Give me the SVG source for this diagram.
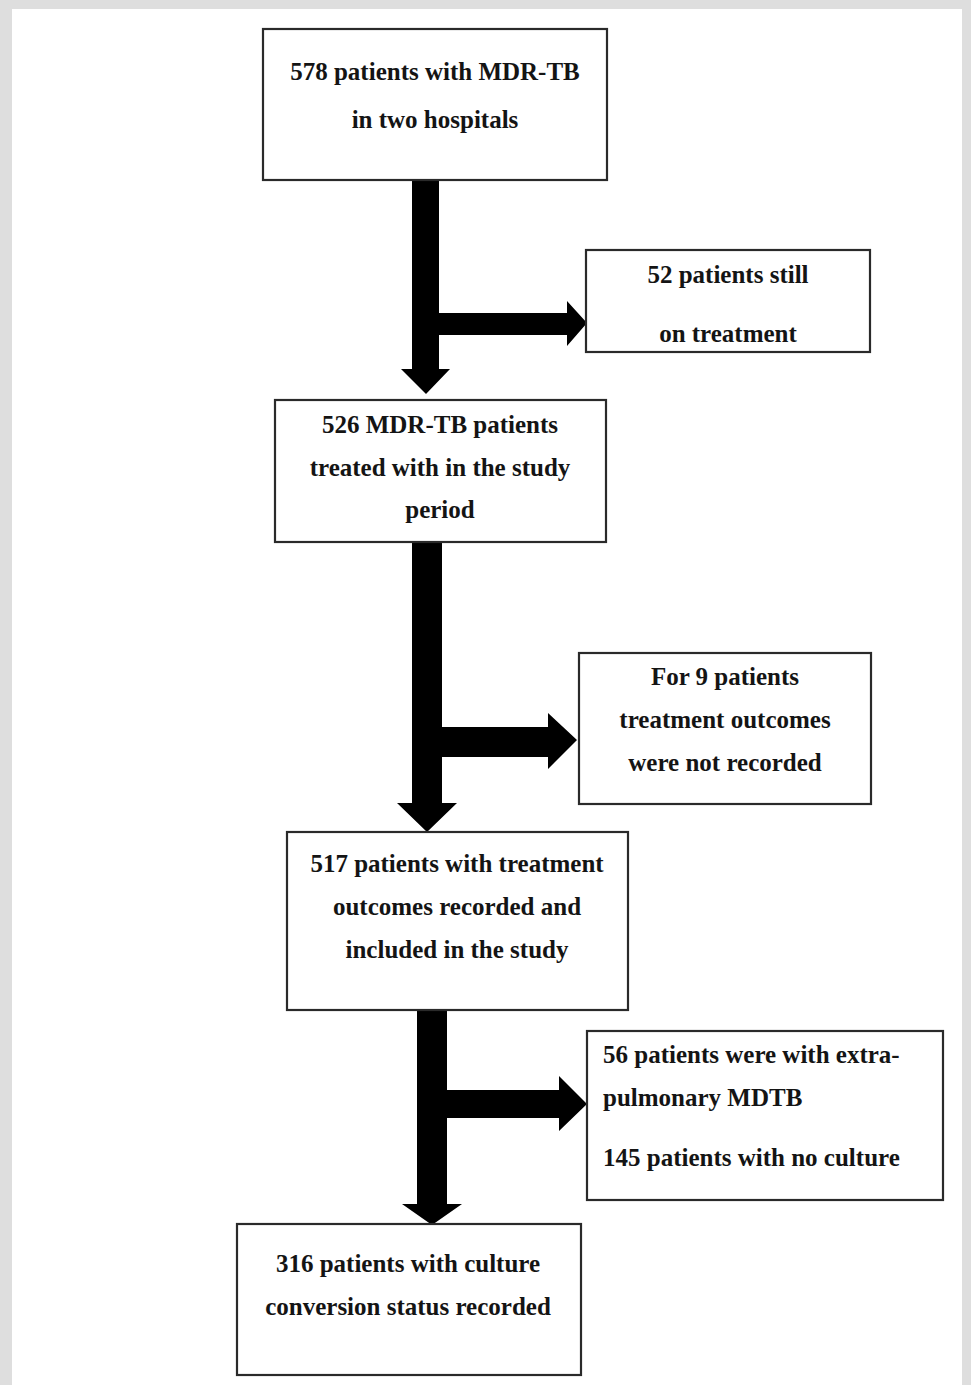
<svg xmlns="http://www.w3.org/2000/svg" width="971" height="1385" viewBox="0 0 971 1385">
<style>
.box{fill:#fff;stroke:#2a2a2a;stroke-width:2.2}
.t{font-family:"Liberation Serif","Times New Roman",serif;font-weight:bold;font-size:25px;fill:#141414}
.c{text-anchor:middle}
.arr{fill:#000}
</style>
<rect x="0" y="0" width="971" height="1385" fill="#dedede"/>
<rect x="12" y="9" width="950" height="1376" fill="#fff"/>
<g id="connectors">
<path class="arr" d="M412,180 H439 V313 H567 V301 L587,323 L567,346 V335 H439 V369 H450 L426,394 L401,369 H412 Z"/>
<path class="arr" d="M412,542 H442 V727 H548 V713 L577,740 L548,769 V757 H442 V803 H457 L427,832 L397,803 H412 Z"/>
<path class="arr" d="M417,1010 H447 V1090 H559 V1076 L587,1104 L559,1131 V1118 H447 V1204 H462 L432,1225 L402,1204 H417 Z"/>
</g>
<g id="n1"><rect class="box" x="263" y="29" width="344" height="151"/>
<text class="t c" x="435" y="80">578 patients with MDR-TB</text>
<text class="t c" x="435" y="128">in two hospitals</text></g>
<g id="n2"><rect class="box" x="586" y="250" width="284" height="102"/>
<text class="t c" x="728" y="283">52 patients still</text>
<text class="t c" x="728" y="342">on treatment</text></g>
<g id="n3"><rect class="box" x="275" y="400" width="331" height="142"/>
<text class="t c" x="440" y="433">526 MDR-TB patients</text>
<text class="t c" x="440" y="476">treated with in the study</text>
<text class="t c" x="440" y="518">period</text></g>
<g id="n4"><rect class="box" x="579" y="653" width="292" height="151"/>
<text class="t c" x="725" y="685">For 9 patients</text>
<text class="t c" x="725" y="728">treatment outcomes</text>
<text class="t c" x="725" y="771">were not recorded</text></g>
<g id="n5"><rect class="box" x="287" y="832" width="341" height="178"/>
<text class="t c" x="457" y="872">517 patients with treatment</text>
<text class="t c" x="457" y="915">outcomes recorded and</text>
<text class="t c" x="457" y="958">included in the study</text></g>
<g id="n6"><rect class="box" x="587" y="1031" width="356" height="169"/>
<text class="t" x="603" y="1063">56 patients were with extra-</text>
<text class="t" x="603" y="1106">pulmonary MDTB</text>
<text class="t" x="603" y="1166">145 patients with no culture</text></g>
<g id="n7"><rect class="box" x="237" y="1224" width="344" height="151"/>
<text class="t c" x="408" y="1272">316 patients with culture</text>
<text class="t c" x="408" y="1315">conversion status recorded</text></g>
</svg>
